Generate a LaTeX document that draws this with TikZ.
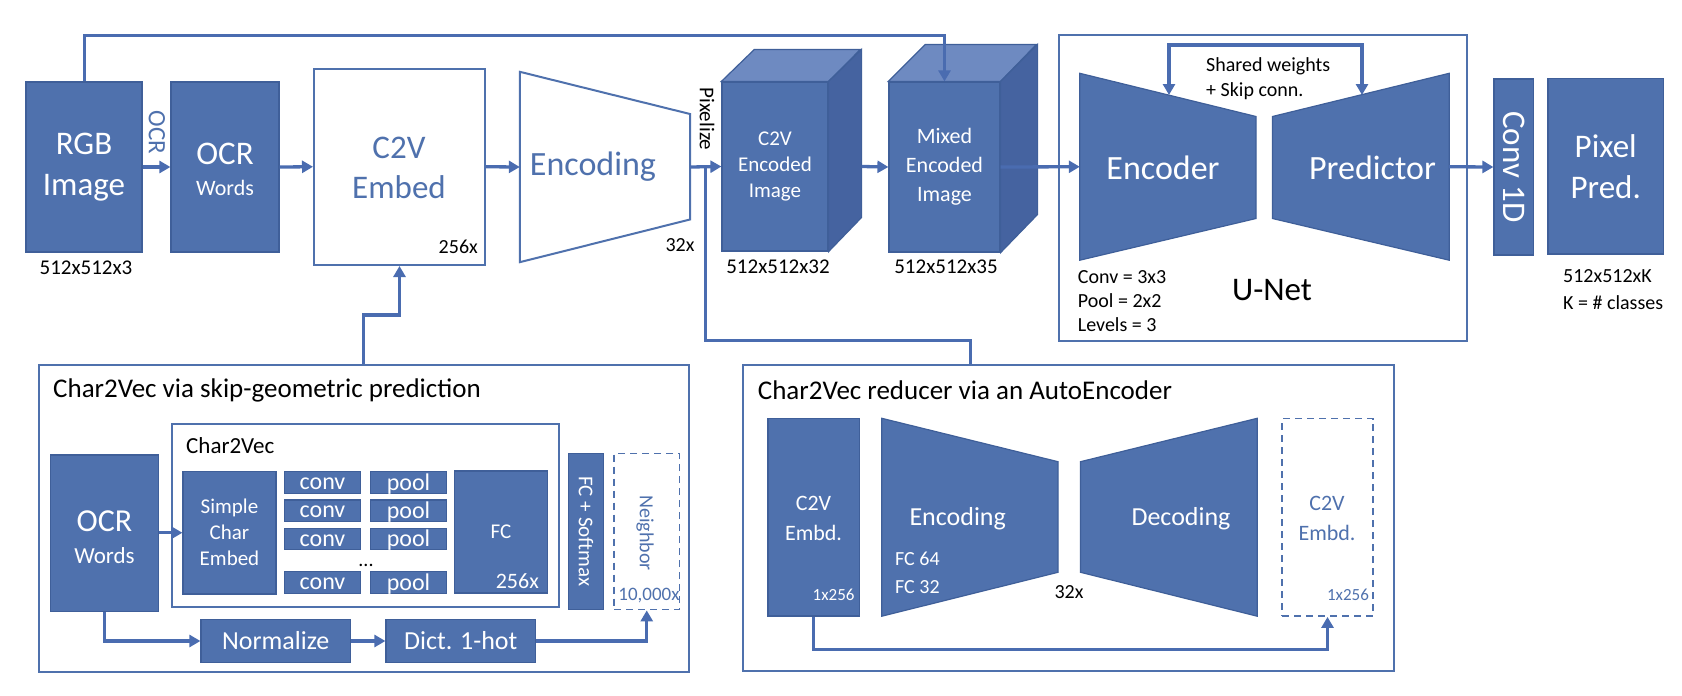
\documentclass[tikz,border=0pt]{standalone}
\usepackage{fontspec}
\setmainfont{Carlito}
\usetikzlibrary{arrows.meta,fit,calc}
\definecolor{blu}{HTML}{4F71AD}
\definecolor{bdr}{HTML}{3F5F99}
\definecolor{ln}{HTML}{4A6CB0}
\definecolor{topc}{HTML}{6E8AC1}
\definecolor{sidec}{HTML}{4563A0}
\begin{document}
\begin{tikzpicture}[x=1pt,y=-1pt,
  fb/.style={draw=bdr,line width=1.2pt,fill=blu,text=white,align=center,inner sep=0pt},
  wb/.style={draw=blu,line width=2pt,fill=white,text=blu,align=center,inner sep=0pt},
  db/.style={draw=blu,line width=1.8pt,dash pattern=on 7pt off 5pt,inner sep=0pt},
  gb/.style={draw=blu,line width=2pt,inner sep=0pt},
  ph/.style={inner sep=0pt},
  conn/.style={draw=ln,line width=3.3pt,-{Triangle[length=11pt,width=12pt]}},
  tx/.style={inner sep=0pt,align=center},
  wt/.style={tx,text=white},
  bt/.style={tx,text=blu},
  kt/.style={tx,text=black},
  f17/.style={font=\fontsize{17}{20}\selectfont},
  f19/.style={font=\fontsize{19}{22}\selectfont},
  f20/.style={font=\fontsize{20}{24}\selectfont},
  f21/.style={font=\fontsize{21}{25}\selectfont},
  f22/.style={font=\fontsize{22}{30}\selectfont},
  f23/.style={font=\fontsize{23}{27}\selectfont},
  f24/.style={font=\fontsize{24}{28}\selectfont},
  f25/.style={font=\fontsize{25}{30}\selectfont},
  f26/.style={font=\fontsize{26}{31}\selectfont},
  f27/.style={font=\fontsize{27}{32}\selectfont},
  f32/.style={font=\fontsize{32}{38}\selectfont},
  f33/.style={font=\fontsize{33}{41}\selectfont},
  f34/.style={font=\fontsize{34}{40}\selectfont}
]
\useasboundingbox (0,0) rectangle (1682,696);

% ---------- top row ----------
\node[fb,fit={(26,82)(142,252)}] (rgb) {};
\node[wt,f33] at (rgb) {RGB\\Image};
\node[kt,f21] (rgbdim) at (86,268) {512x512x3};

\node[fb,fit={(171,82)(279,252)}] (ocrw) {};
\node[wt,f33] at (225,154) {OCR};
\node[wt,f22] at (225,188) {Words};
\node[bt,f25,rotate=-90] (ocrlbl) at (157,132.5) {OCR};

\node[wb,fit={(314,68.5)(485,265)}] (c2v) {};
\node[bt,font=\fontsize{33}{40}\selectfont] at (399,168) {C2V\\Embed};
\node[kt,f20,anchor=east] at (478,247) {256x};

\node[ph,fit={(520,72)(690,262)}] (enc) {};
\draw[draw=blu,line width=2pt,fill=white] (enc.north west) -- (690,114) -- (690,219.5) -- (enc.south west) -- cycle;
\node[bt,f34] at (593,167) {Encoding};
\node[kt,f20] at (680,245) {32x};
\node[kt,f21,rotate=-90] at (707,119) {Pixelize};

% C2V encoded image cube
\node[fb,fit={(722,82)(828,251)}] (cimg) {};
\filldraw[draw=bdr,line width=1.2pt,fill=topc] (cimg.north west) -- ++(33,-32) -- ++(106,0) -- (cimg.north east) -- cycle;
\filldraw[draw=bdr,line width=1.2pt,fill=sidec] (cimg.north east) -- ++(33,-32) -- ++(0,168) -- (cimg.south east) -- cycle;
\node[wt,font=\fontsize{21}{26}\selectfont] at (cimg) {C2V\\Encoded\\Image};
\node[kt,f21] at (778,267) {512x512x32};

% Mixed encoded image cube
\node[fb,fit={(889,82)(1000,252)}] (mimg) {};
\filldraw[draw=bdr,line width=1.2pt,fill=topc] (mimg.north west) -- ++(37,-37) -- ++(111,0) -- (mimg.north east) -- cycle;
\filldraw[draw=bdr,line width=1.2pt,fill=sidec] (mimg.north east) -- ++(37,-37) -- ++(0,170) -- (mimg.south east) -- cycle;
\node[wt,font=\fontsize{22}{29}\selectfont] at (mimg) {Mixed\\Encoded\\Image};
\node[kt,f21] at (946,267) {512x512x35};

% U-Net
\node[gb,fit={(1058.5,35)(1467,341)}] (unet) {};
\node[ph,fit={(1080,73.5)(1256,260)}] (uenc) {};
\filldraw[draw=bdr,line width=1.2pt,fill=blu] (uenc.north west) -- (1256,116.5) -- (1256,218.5) -- (uenc.south west) -- cycle;
\node[ph,fit={(1272.5,73.5)(1449,260)}] (upred) {};
\filldraw[draw=bdr,line width=1.2pt,fill=blu] (1272.5,116.5) -- (upred.north east) -- (upred.south east) -- (1272.5,218.5) -- cycle;
\node[wt,f34] at (1163,168) {Encoder};
\node[wt,f34] at (1372.5,168) {Predictor};
\coordinate (sw1) at (1169,95);
\coordinate (sw2) at (1362,95);
\draw[draw=ln,line width=3.3pt,{Triangle[length=11pt,width=12pt]}-{Triangle[length=11pt,width=12pt]}] (sw1) -- (1169,45) -- (1362,45) -- (sw2);
\node[kt,f20,anchor=west] at (1206,66.7) {Shared weights};
\node[kt,f20,anchor=west] at (1206,90.7) {+ Skip conn.};
\node[kt,f20,anchor=west] at (1077.7,276.7) {Conv = 3x3};
\node[kt,f20,anchor=west] at (1077.7,300.5) {Pool = 2x2};
\node[kt,f20,anchor=west] at (1077.7,325) {Levels = 3};
\node[kt,f33] at (1272,290) {U-Net};

\node[fb,fit={(1494,79)(1533.5,255)}] (conv1d) {};
\node[wt,f33,rotate=-90] at (conv1d) {Conv 1D};
\node[fb,fit={(1548,78.5)(1663.5,254)}] (pix) {};
\node[wt,f33] at (pix) {Pixel\\Pred.};
\node[kt,f20,anchor=west] at (1563,276) {512x512xK};
\node[kt,f20,anchor=west] at (1563,302.7) {K = \# classes};

% ---------- bottom left ----------
\node[gb,fit={(39,365)(689,672)}] (lbox) {};
\node[kt,f27,anchor=west] at (53,390) {Char2Vec via skip-geometric prediction};
\node[gb,fit={(172,424)(558.5,607)}] (c2vin) {};
\node[kt,f23,anchor=west] at (186,446) {Char2Vec};

\node[fb,fit={(50.5,455)(158.5,611.5)}] (ocr2) {};
\node[wt,f32] at (104.5,521.7) {OCR};
\node[wt,f23] at (104.5,556) {Words};

\node[fb,fit={(183,471.5)(276,594)}] (sce) {};
\node[wt,font=\fontsize{21}{26}\selectfont] at (sce) {Simple\\Char\\Embed};

\node[fb,fit={(284.5,471.5)(360.5,493.5)}] (cv1) {};
\node[fb,fit={(284.5,500)(360.5,521.5)}] (cv2) {};
\node[fb,fit={(284.5,528.5)(360.5,549.5)}] (cv3) {};
\node[fb,fit={(284.5,571.5)(360.5,593.5)}] (cv4) {};
\node[fb,fit={(370.5,471.5)(446.5,493.5)}] (pl1) {};
\node[fb,fit={(370.5,500)(446.5,521.5)}] (pl2) {};
\node[fb,fit={(370.5,528.5)(446.5,549.5)}] (pl3) {};
\node[fb,fit={(370.5,571.5)(446.5,593.5)}] (pl4) {};
\foreach \n in {cv1,cv2,cv3,cv4}{\node[wt,f24] at ([yshift=-1.5]\n.center) {conv};}
\foreach \n in {pl1,pl2,pl3,pl4}{\node[wt,f24] at ([yshift=-1.5]\n.center) {pool};}
\node[kt,f20,anchor=base] at (366,566) {...};

\node[fb,fit={(454.5,471)(547.5,593)}] (fc) {};
\node[wt,f21] at (501,532) {FC};
\node[wt,f22,anchor=east] at (539,580.7) {256x};

\node[fb,fit={(568.5,453.5)(603.5,609.5)}] (fcs) {};
\node[wt,f21,rotate=-90] at (fcs) {FC + Softmax};
\node[db,fit={(614,453.5)(679.5,609.5)}] (neigh) {};
\node[bt,f20,rotate=-90] at (645,533) {Neighbor};
\node[bt,f19] at (649,596) {10,000x};

\node[fb,fit={(201,619.5)(350.5,662.5)}] (norm) {};
\node[wt,f26] at (norm) {Normalize};
\node[fb,fit={(386,619.5)(535.5,662.5)}] (dict) {};
\node[wt,f26] at (dict) {Dict. 1-hot};

% ---------- bottom right ----------
\node[gb,fit={(742.5,365)(1394,671)}] (rbox) {};
\node[kt,f27,anchor=west] at (757.7,390) {Char2Vec reducer via an AutoEncoder};

\node[fb,fit={(768,418.5)(859.5,616)}] (c2vl) {};
\node[wt,font=\fontsize{22}{30}\selectfont] at (813.5,518) {C2V\\Embd.};
\node[wt,f17] at (833.6,595) {1x256};

\node[ph,fit={(882,418.5)(1058,616)}] (aenc) {};
\filldraw[draw=bdr,line width=1.2pt,fill=blu] (aenc.north west) -- (1058,461.7) -- (1058,572.3) -- (aenc.south west) -- cycle;
\node[wt,f26] at (957.7,518.3) {Encoding};
\node[wt,f20,anchor=west] at (895,559.3) {FC 64};
\node[wt,f20,anchor=west] at (895,586.7) {FC 32};
\node[kt,f20] at (1069,591.7) {32x};

\node[ph,fit={(1080.5,418.5)(1257,616)}] (adec) {};
\filldraw[draw=bdr,line width=1.2pt,fill=blu] (1080.5,461.7) -- (adec.north east) -- (adec.south east) -- (1080.5,572.3) -- cycle;
\node[wt,f26] at (1181,518.3) {Decoding};

\node[db,fit={(1282,418.5)(1373,616)}] (c2vr) {};
\node[bt,font=\fontsize{22}{30}\selectfont] at (1327,518) {C2V\\Embd.};
\node[bt,f17] at (1348,595) {1x256};

% ---------- connectors ----------
\draw[conn] (rgb.east) -- (ocrw.west);
\draw[conn] (ocrw.east) -- (c2v.west);
\draw[conn] (c2v.east) -- (enc.west);
\draw[conn] (enc.east) -- (cimg.west);
\draw[conn] ([xshift=33]cimg.east) -- (mimg.west);
\draw[conn] (mimg.east) -- (uenc.west);
\draw[conn] (upred.east) -- (conv1d.west);
\draw[draw=ln,line width=3pt,-{Triangle[length=11pt,width=12pt]}] (rgb.north) -- (rgb.north |- 0,35) -| (mimg.north);
\coordinate (px) at (705,167);
\coordinate (pxb) at (970,340);
\draw[draw=ln,line width=3pt] (px) |- (pxb) -- (pxb |- rbox.north);
\coordinate (lup) at (363.5,315);
\draw[conn] (lup |- lbox.north) -- (lup) -| (c2v.south);

\draw[conn] (ocr2.east |- sce.west) -- (sce.west);
\draw[conn] (ocr2.south) |- (norm.west);
\draw[conn] (norm.east) -- (dict.west);
\draw[conn] (dict.east) -| (neigh.south);

\draw[conn] (c2vl.south) -- ++(0,33) -| (c2vr.south);
\end{tikzpicture}
\end{document}
